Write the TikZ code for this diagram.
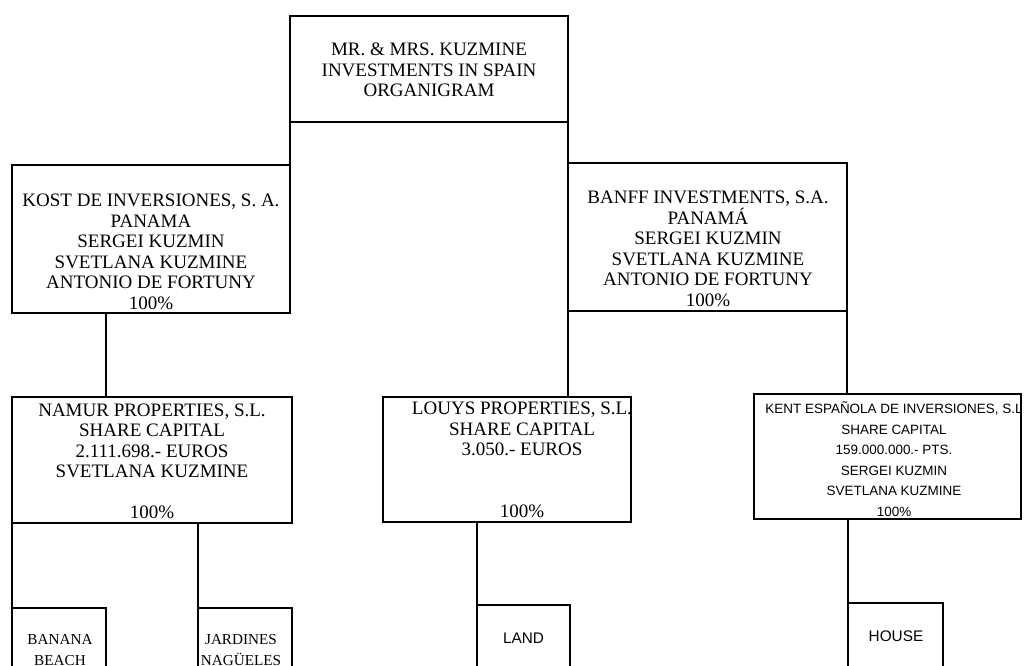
\documentclass[tikz,border=0pt]{standalone}
\usepackage{fontspec}
\setmainfont{Liberation Serif}
\newfontfamily\arialfont{Liberation Sans}
\usetikzlibrary{fit}

\tikzset{every picture/.style={line width=0.75pt}}

\begin{document}
\begin{tikzpicture}[x=0.75pt,y=0.75pt,yscale=-1,xscale=1,
  box/.style={draw, line width=1pt, inner sep=0pt, outer sep=0pt},
  link/.style={line width=1pt},
  bigtxt/.style={font=\fontsize{14.25}{15.4}\selectfont, align=center, inner sep=0pt},
  sanssmall/.style={font=\arialfont\fontsize{10.1}{15.4}\selectfont, align=center, inner sep=0pt},
  smalltxt/.style={font=\fontsize{11.4}{15.75}\selectfont, align=center, inner sep=0pt},
  sanstxt/.style={font=\arialfont\fontsize{11.5}{14}\selectfont, inner sep=0pt}]
\useasboundingbox (0,0) rectangle (1024,666);
\clip (0,0) rectangle (1024,666);

%Boxes
\node[box, fit={(290,16) (568,122)}] (top) {};
\node[box, fit={(12,165) (290,313)}] (kost) {};
\node[box, fit={(568,163) (847,311)}] (banff) {};
\node[box, fit={(12,397) (292,523)}] (namur) {};
\node[box, fit={(383,397) (631,522)}] (louys) {};
\node[box, fit={(754,394) (1021,519)}] (kent) {};
\node[box, fit={(12,608) (106,700)}] (banana) {};
\node[box, fit={(198,608) (292,700)}] (jardines) {};
\node[box, fit={(477,605) (570,700)}] (land) {};
\node[box, fit={(848,603) (943,700)}] (house) {};

% Text Node
\node[bigtxt] (toptxt) at (429,70) {MR. \& MRS. KUZMINE\\INVESTMENTS IN SPAIN\\ORGANIGRAM};
% Text Node
\node[bigtxt] (kosttxt) at (151,252) {KOST DE INVERSIONES, S. A.\\PANAMA\\SERGEI KUZMIN\\SVETLANA KUZMINE\\ANTONIO DE FORTUNY\\100\%};
% Text Node
\node[bigtxt] (banfftxt) at (708,249) {BANFF INVESTMENTS, S.A.\\PANAMÁ\\SERGEI KUZMIN\\SVETLANA KUZMINE\\ANTONIO DE FORTUNY\\100\%};
% Text Node
\node[bigtxt] (namurtxt) at (152,461.5) {NAMUR PROPERTIES, S.L.\\SHARE CAPITAL\\2.111.698.- EUROS\\SVETLANA KUZMINE\\[15.4pt]100\%};
% Text Node
\node[bigtxt] (louystxt) at (522,460) {LOUYS PROPERTIES, S.L.\\SHARE CAPITAL\\3.050.- EUROS\\[30.8pt]100\%};
% Text Node
\node[sanssmall] (kenttxt) at (894,459) {KENT ESPAÑOLA DE INVERSIONES, S.L\\SHARE CAPITAL\\159.000.000.- PTS.\\SERGEI KUZMIN\\SVETLANA KUZMINE\\100\%};
% Text Node
\node[smalltxt] (bananatxt) at (60,650) {BANANA\\BEACH};
% Text Node
\node[smalltxt] (jardinestxt) at (241,650) {JARDINES\\NAGÜELES};
% Text Node
\node[sanstxt] (landtxt) at (523.5,638) {LAND};
% Text Node
\node[sanstxt] (housetxt) at (896,636) {HOUSE};

%Straight Lines
\coordinate (kostfoot) at (106,313);
\draw[link] (top.south west) -- (kost.north east);
\draw[link] (top.south east) -- (banff.north west);
\draw[link] (kostfoot) -- (kostfoot |- namur.north);
\draw[link] (banff.south west) -- (banff.south west |- louys.north);
\draw[link] (banff.south east) -- (banff.south east |- kent.north);
\draw[link] (namur.south west) -- (banana.north west);
\draw[link] (jardines.north west |- namur.south) -- (jardines.north west);
\draw[link] (land.north west |- louys.south) -- (land.north west);
\draw[link] (house.north west |- kent.south) -- (house.north west);

\end{tikzpicture}
\end{document}
